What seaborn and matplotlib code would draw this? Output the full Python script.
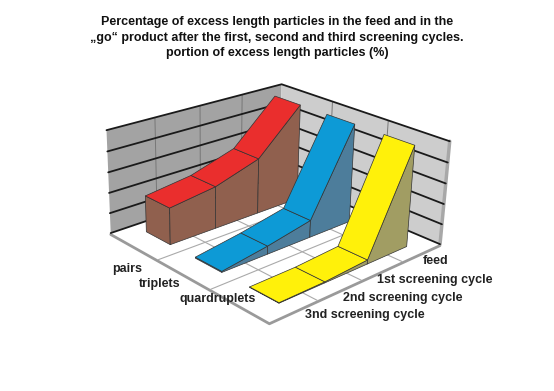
import matplotlib
matplotlib.use("Agg")
import matplotlib.pyplot as plt
import seaborn as sns
from mpl_toolkits.mplot3d.art3d import Poly3DCollection

# values (portion in %)
cycles = ['3nd screening cycle', '2nd screening cycle', '1st screening cycle', 'feed']
particles = ['pairs', 'triplets', 'quardruplets']
pairs_values = [36, 42, 56, 98]
triplets_values = [1, 8, 17, 98]
quadruplets_values = [0.5, 1, 4, 98]
y_ticks = [0, 20, 40, 60, 80, 100]

sns.set_theme(style='white')
plt.rcParams['font.family'] = ['Liberation Sans', 'DejaVu Sans']

top_colors = sns.color_palette(['#ea2e2d', '#0d9ad6', '#fff10a'])
side_colors = sns.color_palette(['#90604e', '#4d7d9b', '#a19d63'])
edge = '#333333'

fig = plt.figure(figsize=(5.54, 3.91), dpi=100)
ax = fig.add_axes([-6 / 554, 2 / 391, 1, 1], projection='3d', computed_zorder=False)
ax.set_proj_type('persp', focal_length=0.5)
ax.view_init(elev=23, azim=-44, roll=-1.5)
ax.set_box_aspect((1, 1, 0.47), zoom=0.88)
ax.set_axis_off()

nx = len(particles)
ny = len(cycles)
ax.set_xlim(0, nx)
ax.set_ylim(0, ny)
ax.set_zlim(0, 100)


def face(verts, color, z, ec='none', lw=0.0):
    ax.add_collection3d(Poly3DCollection([verts], facecolors=[color], edgecolors=ec,
                                         linewidths=lw, zorder=z))


# walls and floor
top = y_ticks[-1]
face([(0, 0, 0), (0, ny, 0), (0, ny, top), (0, 0, top)], '#a3a3a3', 1)
face([(0, ny, 0), (nx, ny, 0), (nx, ny, top), (0, ny, top)], '#cdcdcd', 1)
face([(0, 0, 0), (nx, 0, 0), (nx, ny, 0), (0, ny, 0)], 'white', 1)

# thin grey edge of the floor and of the right wall
ax.plot([0, nx, nx], [0, 0, ny], [-1.5, -1.5, -1.5], color='#9a9a9a', lw=2, zorder=2)
ax.plot([nx, nx], [ny, ny], [0, top], color='#a8a8a8', lw=2.5, zorder=2)

for t in y_ticks:
    ax.plot([0, 0, nx], [0, ny, ny], [t, t, t], color='#1a1a1a', lw=1.3, zorder=3)
for i in range(1, ny):
    ax.plot([0, 0], [i, i], [0, top], color='#777777', lw=0.7, zorder=2)
    ax.plot([0, nx], [i, i], [0, 0], color='#aaaaaa', lw=0.8, zorder=2)
for i in range(1, nx):
    ax.plot([i, i], [ny, ny], [0, top], color='#777777', lw=0.7, zorder=2)
    ax.plot([i, i], [0, ny], [0, 0], color='#aaaaaa', lw=0.8, zorder=2)

# one ribbon per particle type
series = [pairs_values, triplets_values, quadruplets_values]
for k, values in enumerate(series):
    x0 = k + 0.25
    x1 = k + 0.75
    z = 10 + k * 5
    ys = [i + 0.5 for i in range(ny)]
    face([(x0, ys[0], 0), (x1, ys[0], 0), (x1, ys[0], values[0]), (x0, ys[0], values[0])],
         side_colors[k], z, edge, 0.5)
    for i in range(ny - 1):
        face([(x1, ys[i], 0), (x1, ys[i + 1], 0), (x1, ys[i + 1], values[i + 1]), (x1, ys[i], values[i])],
             side_colors[k], z + 1, edge, 0.5)
    for i in range(ny - 1):
        face([(x0, ys[i], values[i]), (x1, ys[i], values[i]),
              (x1, ys[i + 1], values[i + 1]), (x0, ys[i + 1], values[i + 1])],
             top_colors[k], z + 2, edge, 0.5)

# labels
title = ('Percentage of excess length particles in the feed and in the\n'
         '„go“ product after the first, second and third screening cycles.\n'
         'portion of excess length particles (%)')
fig.text(277 / 554, 1 - 16 / 391, title, ha='center', va='top', fontsize=9, fontweight='bold',
         linespacing=1.39, color='#111111')
for name, px, py in zip(particles, [112, 139, 179], [269, 284, 299]):
    fig.text(px / 554, 1 - py / 391, name, ha='left', va='center', fontsize=9, fontweight='bold', color='#222222')
for name, px, py in zip(cycles, [305, 343, 377, 423], [315, 298, 280, 261]):
    fig.text(px / 554, 1 - py / 391, name, ha='left', va='center', fontsize=9, fontweight='bold', color='#222222')

fig.savefig('out.png', dpi=100)
